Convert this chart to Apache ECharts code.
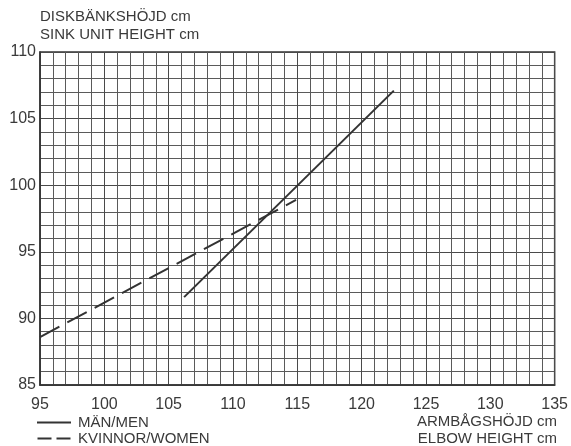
<!DOCTYPE html>
<html><head><meta charset="utf-8">
<script src="https://cdn.jsdelivr.net/npm/echarts@6/dist/echarts.min.js"></script>
<style>html,body{margin:0;padding:0;background:#fff}#c{width:571px;height:446px}</style>
</head><body><div id="c"></div>
<script>
const xTicks = [95, 100, 105, 110, 115, 120, 125, 130, 135];
const yTicks = [85, 90, 95, 100, 105, 110];
const menElbow = [106.2, 122.5];
const menSink = [91.6, 107.1];
const womenElbow = [95, 114.9];
const womenSink = [88.6, 98.9];
const seriesNames = ['MÄN/MEN', 'KVINNOR/WOMEN'];

const font = '"Liberation Sans", Arial, sans-serif';
const txt = '#3a3a3a';
const chart = echarts.init(document.getElementById('c'), null, {renderer: 'canvas'});
const zip = (a, b) => a.map((v, i) => [v, b[i]]);
chart.setOption({
  animation: false,
  backgroundColor: '#fff',
  grid: {left: 40, right: 16, top: 52, bottom: 61, show: true, borderColor: '#333', borderWidth: 1.5},
  xAxis: {
    type: 'value', min: xTicks[0], max: xTicks[xTicks.length - 1], interval: 5,
    axisLine: {show: true, lineStyle: {color: '#333', width: 1.5}},
    axisTick: {show: false},
    axisLabel: {color: txt, fontFamily: font, fontSize: 16, margin: 12},
    splitLine: {show: true, lineStyle: {color: '#4a4a4a', width: 1}},
    minorTick: {show: false, splitNumber: 5},
    minorSplitLine: {show: true, lineStyle: {color: '#5a5a5a', width: 1}}
  },
  yAxis: {
    type: 'value', min: yTicks[0], max: yTicks[yTicks.length - 1], interval: 5,
    axisLine: {show: true, lineStyle: {color: '#333', width: 1.5}},
    axisTick: {show: false},
    axisLabel: {color: txt, fontFamily: font, fontSize: 16, margin: 4},
    splitLine: {show: true, lineStyle: {color: '#4a4a4a', width: 1}},
    minorTick: {show: false, splitNumber: 5},
    minorSplitLine: {show: true, lineStyle: {color: '#5a5a5a', width: 1}}
  },
  legend: {
    orient: 'vertical', left: 37, top: 415, itemGap: 1, itemWidth: 34, itemHeight: 2,
    padding: 0,
    textStyle: {color: txt, fontFamily: font, fontSize: 15, padding: [0, 0, 0, 2]},
    data: [
      {name: seriesNames[0], icon: 'path://M0,0H34V2H0Z'},
      {name: seriesNames[1], icon: 'path://M0,0H14V2H0Z M19,0H33V2H19Z'}
    ]
  },
  graphic: [
    {type: 'text', left: 40, top: 9, style: {text: 'DISKBÄNKSHÖJD cm', fill: txt, font: '15px ' + font}},
    {type: 'text', left: 40, top: 27, style: {text: 'SINK UNIT HEIGHT cm', fill: txt, font: '15px ' + font}},
    {type: 'text', right: 14, top: 414, style: {text: 'ARMBÅGSHÖJD cm', fill: txt, font: '15px ' + font, textAlign: 'right'}},
    {type: 'text', right: 14, top: 431, style: {text: 'ELBOW HEIGHT cm', fill: txt, font: '15px ' + font, textAlign: 'right'}}
  ],
  series: [
    {name: seriesNames[0], type: 'line', data: zip(menElbow, menSink), symbol: 'none',
     lineStyle: {color: '#333', width: 2}, itemStyle: {color: '#333'}},
    {name: seriesNames[1], type: 'line', data: zip(womenElbow, womenSink), symbol: 'none',
     lineStyle: {color: '#333', width: 2, type: [22, 9]}, itemStyle: {color: '#333'}}
  ]
});
</script></body></html>
